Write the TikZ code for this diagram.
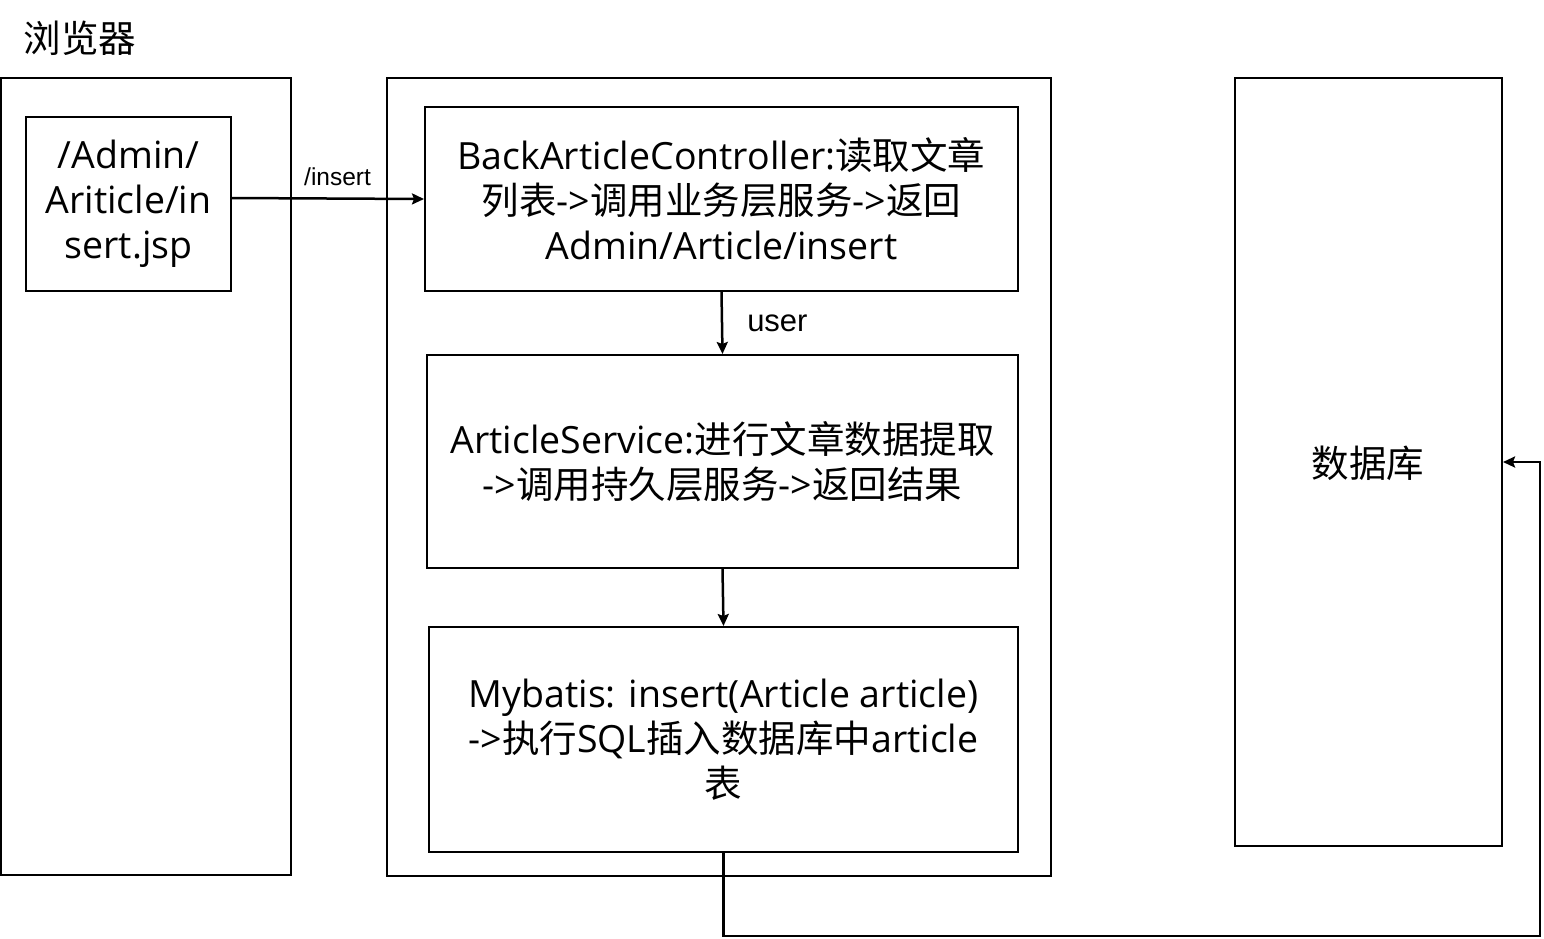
\documentclass[tikz,border=0pt]{standalone}
\usepackage{fontspec}
\setmainfont{Open Sans}
\newfontfamily\cjk{Noto Sans CJK SC}
\newfontfamily\arialf{Liberation Sans}
\usetikzlibrary{arrows.meta}
\tikzset{
  box/.style={draw=black, line width=2pt, inner sep=0pt, align=center},
  bigtxt/.style={font=\fontsize{37.5}{45}\selectfont},
  arr/.style={line width=2.5pt, -{Stealth[length=12pt,width=11pt,inset=2pt]}},
  lbl/.style={inner sep=0pt}
}
\begin{document}
\begin{tikzpicture}[x=1pt,y=-1pt]
\useasboundingbox (0,0) rectangle (1544,938);
\node[lbl, font=\cjk\fontsize{37.5}{40}\selectfont] (title) at (80,38) {浏览器};
\node[box, minimum width=290pt, minimum height=797pt] (browser) at (146,476.5) {};
\node[box, bigtxt, minimum width=205pt, minimum height=174pt] (jsp) at (128.5,204) {/Admin/\\Ariticle/in\\sert.jsp};
\node[box, minimum width=664pt, minimum height=798pt] (server) at (719,477) {};
\node[box, bigtxt, minimum width=593pt, minimum height=184pt] (ctrl) at (721.5,199) {BackArticleController:{\cjk 读取文章}\\{\cjk 列表}->{\cjk 调用业务层服务}->{\cjk 返回}\\Admin/Article/insert};
\node[box, bigtxt, minimum width=591pt, minimum height=213pt] (svc) at (722.5,461.5) {ArticleService:{\cjk 进行文章数据提取}\\->{\cjk 调用持久层服务}->{\cjk 返回结果}};
\node[box, bigtxt, minimum width=589pt, minimum height=225pt] (mb) at (723.5,739.5) {Mybatis: insert(Article article)\\->{\cjk 执行}SQL{\cjk 插入数据库中}article\\{\cjk 表}};
\node[box, minimum width=267pt, minimum height=768pt] (db) at (1368.5,462) {};
\node[lbl, font=\cjk\fontsize{37.5}{40}\selectfont] (dbt) at (1368,463) {数据库};
\coordinate (c1) at (1540,936);
\draw[arr] ([yshift=6pt]jsp.east) -- (ctrl.west) node[lbl, pos=0.55, above=12pt, font=\arialf\fontsize{24.5}{26}\selectfont] (l1) {/insert};
\draw[arr] (ctrl.south) -- (svc.north) node[lbl, midway, right=24pt, font=\arialf\fontsize{31}{34}\selectfont] (l2) {user};
\draw[arr] (svc.south) -- (mb.north);
\draw[arr] (mb.south) |- (c1) |- (db.east);
\end{tikzpicture}
\end{document}
